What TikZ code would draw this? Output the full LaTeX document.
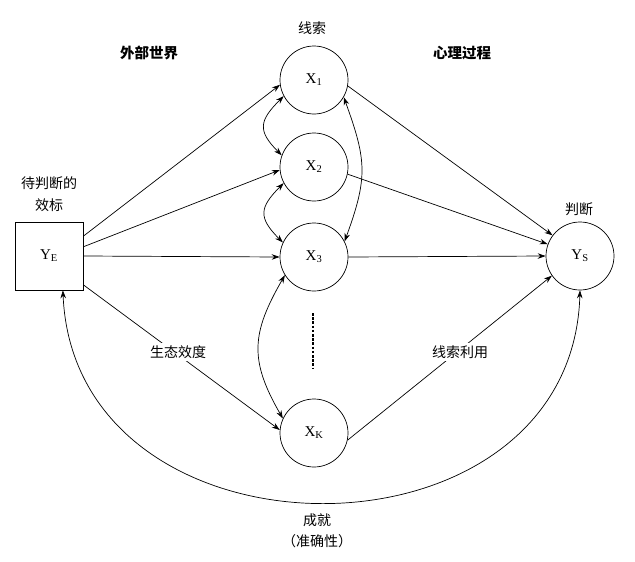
\documentclass[tikz,border=0pt]{standalone}
\usepackage{fontspec}
\setmainfont{Liberation Serif}
\newfontfamily\cjk{Noto Sans CJK SC}
\usetikzlibrary{arrows.meta}
\begin{document}
\begin{tikzpicture}[x=1pt,y=-1pt,
  line width=0.7pt,
  >={Stealth[length=8pt,width=5.5pt]},
  cue/.style={draw,circle,minimum size=68pt,inner sep=0pt,font=\fontsize{15}{15}\selectfont},
  cnlabel/.style={font=\cjk\fontsize{14}{14}\selectfont,inner sep=1pt},
  head/.style={font=\cjk\bfseries\fontsize{14.5}{14.5}\selectfont},
  onlink/.style={cnlabel,fill=white,inner sep=3pt}]
\useasboundingbox[fill=white] (0,0) rectangle (635,562);
% nodes
\node[cue] (x1) at (314,80) {X\textsubscript{1}};
\node[cue] (x2) at (314,167) {X\textsubscript{2}};
\node[cue] (x3) at (314,257) {X\textsubscript{3}};
\node[cue] (xk) at (314,433) {X\textsubscript{K}};
\node[cue] (ys) at (580,256) {Y\textsubscript{S}};
\node[draw,rectangle,minimum width=68pt,minimum height=68pt,inner sep=0pt,font=\fontsize{15}{15}\selectfont] (ye) at (49,256) {Y\textsubscript{E}};
% text labels
\node[cnlabel] (t1) at (49,183) {待判断的};
\node[cnlabel] (t2) at (49,205) {效标};
\node[head] (h1) at (149,53) {外部世界};
\node[head] (h2) at (462,53) {心理过程};
\node[cnlabel] (t3) at (312,28) {线索};
\node[cnlabel] (t4) at (579,209) {判断};
% links from YE
\draw[->] (ye.30) -- (x1.188);
\draw[->] (ye.15) -- (x2.185);
\draw[->] (ye.east) -- (x3.west);
\draw[->] (ye.-40) -- (xk.175);
% links to YS
\draw[->] (x1.-10) -- (ys.143);
\draw[->] (x2.-12) -- (ys.160);
\draw[->] (x3.east) -- (ys.west);
\draw[->] (xk.-12) -- (ys.215);
% link labels
\node[onlink] (l1) at (178,352) {生态效度};
\node[onlink] (l2) at (460,352) {线索利用};
% intercorrelations
\draw[<->] (x1.208) to[out=225,in=135,looseness=1.5] (x2.160);
\draw[<->] (x2.208) to[out=225,in=135,looseness=1.5] (x3.155);
\draw[<->] (x1.-30) to[out=-70,in=70,looseness=1.2] (x3.27);
\draw[<->] (x3.212) to[out=240,in=120,looseness=1.2] (xk.155);
% dots
\coordinate (d1) at (313,313);
\coordinate (d2) at (313,369);
\draw[line width=1.6pt,dash pattern=on 2.6pt off 1.6pt] (d1) -- (d2);
% achievement
\draw[<->] (ye.-68) .. controls (75,573) and (572,573) .. (ys.south);
\node[cnlabel] (a1) at (317,520) {成就};
\node[cnlabel] (a2) at (317,541) {（准确性）};
\end{tikzpicture}
\end{document}
